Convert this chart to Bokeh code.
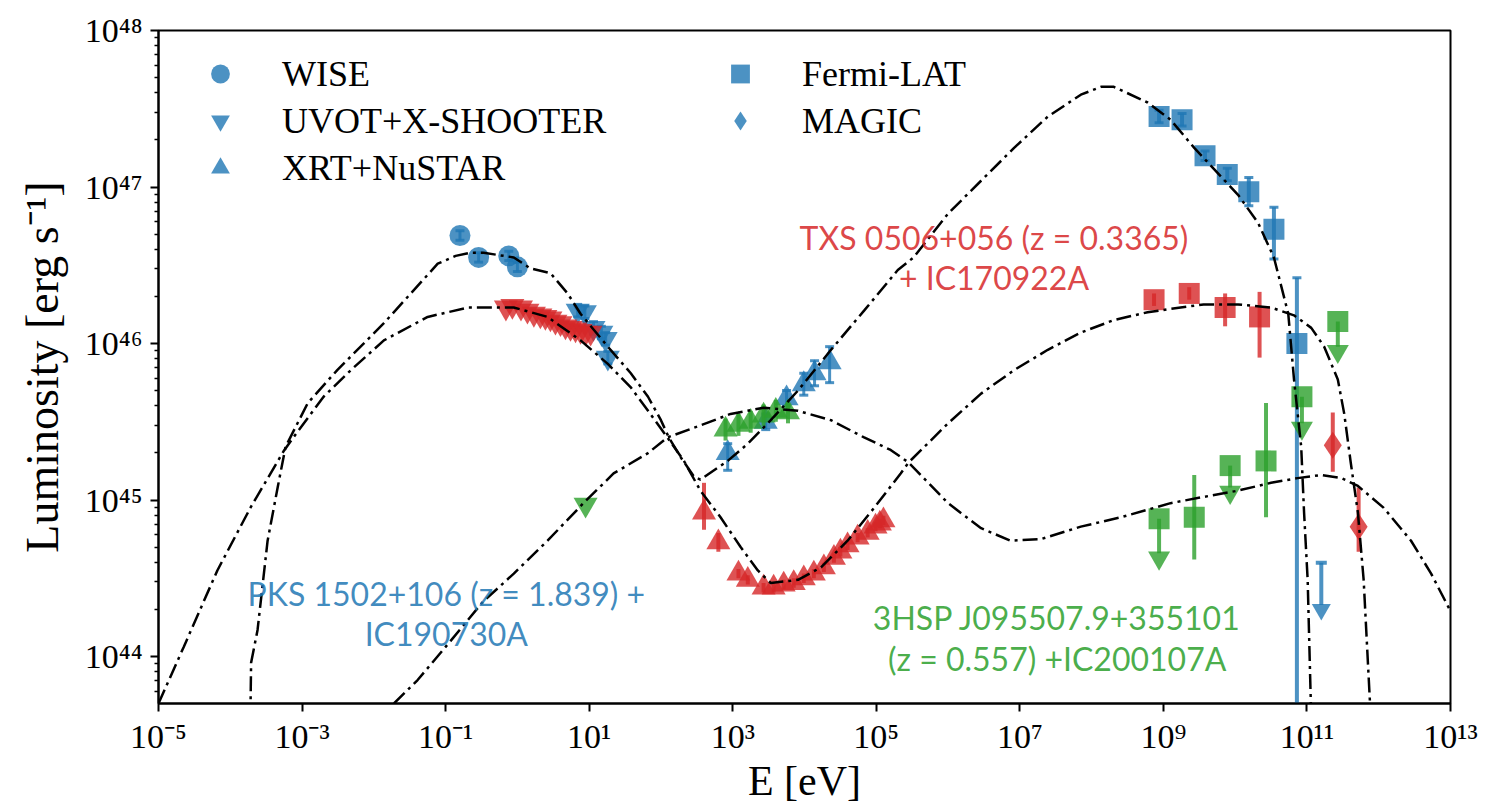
import numpy as np
from bokeh.plotting import figure
from bokeh.models import (FixedTicker, Label, Legend, LegendItem, Range1d, CustomJSTickFormatter)
from bokeh.embed import file_html
from bokeh.resources import INLINE

BLUE = "#1f77b4"
RED = "#d62728"
GREEN = "#2ca02c"

# ---------------- model curves: log10(E/eV), log10(L/erg s^-1) ----------------
pks_model_logE = [-3.72, -3.71, -3.62, -3.48, -3.34, -3.23, -2.92, -2.51, -1.86, -1.11, -0.86, -0.65,
                  -0.47, -0.05, 0.18, 0.46, 0.70, 0.88, 1.26, 1.58, 1.82, 2.00, 2.11, 2.28, 2.46, 2.55,
                  2.93, 3.21, 3.53, 3.91, 4.37, 4.83, 5.30, 5.52, 6.00, 6.46, 6.92, 7.39, 7.85, 8.13,
                  8.31, 8.78, 9.10, 9.43, 10.04, 10.32, 10.54, 10.74, 10.82, 10.92, 10.96, 11.01, 11.06]
pks_model_logL = [43.60, 43.96, 44.17, 44.74, 45.08, 45.34, 45.62, 45.83, 46.13, 46.51, 46.56, 46.58,
                  46.58, 46.55, 46.48, 46.45, 46.32, 46.19, 45.98, 45.81, 45.66, 45.51, 45.40, 45.27,
                  45.15, 45.13, 45.25, 45.36, 45.51, 45.70, 45.96, 46.21, 46.47, 46.55, 46.83, 47.04,
                  47.25, 47.45, 47.59, 47.64, 47.64, 47.54, 47.43, 47.25, 46.95, 46.77, 46.55, 46.19,
                  45.77, 45.34, 44.92, 44.49, 43.60]

txs_model_logE = [-5.00, -4.65, -4.18, -3.72, -3.26, -3.12, -2.70, -2.32, -1.86, -1.25, -0.69, -0.28,
                  -0.05, 0.42, 0.88, 1.26, 1.58, 1.82, 2.09, 2.32, 2.55, 2.83, 3.11, 3.35, 3.53, 3.91,
                  4.23, 4.60, 4.97, 5.34, 5.45, 6.00, 6.46, 6.92, 7.39, 7.85, 8.31, 8.78, 9.24, 9.56,
                  10.04, 10.50, 10.82, 11.06, 11.24, 11.43, 11.52, 11.61, 11.71, 11.79, 11.89]
txs_model_logL = [43.70, 44.06, 44.55, 44.95, 45.31, 45.40, 45.66, 45.83, 46.02, 46.17, 46.23, 46.23,
                  46.23, 46.17, 46.02, 45.87, 45.72, 45.57, 45.40, 45.25, 45.06, 44.89, 44.70, 44.55,
                  44.47, 44.49, 44.57, 44.74, 44.95, 45.17, 45.24, 45.49, 45.68, 45.83, 45.96, 46.07,
                  46.15, 46.20, 46.23, 46.25, 46.25, 46.23, 46.18, 46.10, 45.98, 45.77, 45.55, 45.24,
                  44.92, 44.49, 43.60]

hsp_model_logE = [-1.72, -1.39, -0.93, -0.48, -0.05, 0.42, 0.92, 1.34, 1.82, 2.09, 2.51, 2.97, 3.43,
                  3.91, 4.37, 4.83, 5.20, 5.45, 6.00, 6.46, 6.87, 7.29, 7.85, 8.41, 9.10, 9.56, 10.04,
                  10.50, 10.87, 11.20, 11.48, 11.71, 12.07, 12.45, 12.73, 13.00]
hsp_model_logL = [43.70, 43.85, 44.10, 44.35, 44.53, 44.74, 44.98, 45.17, 45.30, 45.40, 45.47, 45.55,
                  45.59, 45.57, 45.51, 45.40, 45.32, 45.24, 44.98, 44.82, 44.74, 44.75, 44.83, 44.89,
                  44.98, 45.02, 45.06, 45.11, 45.14, 45.16, 45.14, 45.09, 44.95, 44.74, 44.53, 44.29]

# ---------------- PKS 1502+106 data (blue) ----------------
pks_wise_logE = [-0.80, -0.54, -0.12, 0.00]
pks_wise_logL = [46.69, 46.55, 46.56, 46.49]
pks_wise_err = [0.03, 0.03, 0.03, 0.03]

pks_uvot_logE = [0.84, 0.94, 1.06, 1.17, 1.23, 1.26]
pks_uvot_logL = [46.21, 46.20, 46.10, 46.07, 46.03, 45.91]
pks_uvot_err = [0.04, 0.04, 0.04, 0.04, 0.04, 0.04]

pks_xrt_logE = [2.93, 3.46, 3.75, 3.99, 4.14, 4.35]
pks_xrt_logL = [45.30, 45.50, 45.65, 45.74, 45.81, 45.88]
pks_xrt_lo = [45.19, 45.45, 45.60, 45.67, 45.73, 45.75]
pks_xrt_hi = [45.36, 45.55, 45.70, 45.81, 45.89, 45.98]

pks_lat_logE = [8.94, 9.26, 9.58, 9.89, 10.19, 10.54, 10.86]
pks_lat_logL = [47.45, 47.43, 47.20, 47.08, 46.97, 46.73, 46.00]
pks_lat_lo = [47.41, 47.39, 47.17, 47.04, 46.88, 46.54, 40.00]
pks_lat_hi = [47.49, 47.47, 47.23, 47.12, 47.06, 46.87, 46.42]

pks_ul_logE = [11.20]
pks_ul_logL = [44.60]
pks_ul_len = [0.27]

# ---------------- TXS 0506+056 data (red) ----------------
txs_uvot_logE = [-0.16, -0.07, 0.05, 0.14, 0.23, 0.32, 0.39, 0.46, 0.53, 0.60, 0.67, 0.74, 0.81,
                 0.88, 0.95, 1.02]
txs_uvot_logL = [46.23, 46.24, 46.23, 46.21, 46.19, 46.18, 46.17, 46.16, 46.14, 46.13, 46.11,
                 46.10, 46.09, 46.08, 46.07, 46.07]

txs_xrt_logE = [2.60, 2.80, 3.08, 3.21, 3.43, 3.57, 3.71, 3.85, 3.99, 4.13, 4.27, 4.41, 4.50, 4.60,
                4.74, 4.88, 4.99, 5.05, 5.10]
txs_xrt_logL = [44.92, 44.73, 44.53, 44.49, 44.44, 44.44, 44.46, 44.47, 44.50, 44.53, 44.57, 44.63,
                44.67, 44.71, 44.76, 44.79, 44.83, 44.85, 44.87]
txs_xrt_lo = [44.81, 44.67, 44.50, 44.46, 44.41, 44.41, 44.43, 44.44, 44.47, 44.50, 44.54, 44.60,
              44.64, 44.68, 44.73, 44.76, 44.80, 44.82, 44.84]
txs_xrt_hi = [45.11, 44.79, 44.56, 44.52, 44.47, 44.47, 44.49, 44.50, 44.53, 44.56, 44.60, 44.66,
              44.70, 44.74, 44.79, 44.82, 44.86, 44.88, 44.90]

txs_lat_logE = [8.87, 9.36, 9.86, 10.34]
txs_lat_logL = [46.28, 46.32, 46.23, 46.17]
txs_lat_lo = [46.24, 46.28, 46.11, 45.91]
txs_lat_hi = [46.32, 46.36, 46.32, 46.33]

txs_magic_logE = [11.36, 11.72]
txs_magic_logL = [45.35, 44.83]
txs_magic_lo = [45.18, 44.67]
txs_magic_hi = [45.56, 45.08]

# ---------------- 3HSP J095507.9+355101 data (green) ----------------
hsp_uvot_logE = [0.95]
hsp_uvot_logL = [44.97]

hsp_xrt_logE = [2.90, 3.08, 3.25, 3.43, 3.60, 3.77]
hsp_xrt_logL = [45.45, 45.48, 45.50, 45.54, 45.57, 45.56]
hsp_xrt_err = [0.07, 0.07, 0.07, 0.07, 0.07, 0.07]

hsp_lat_logE = [9.43, 10.43]
hsp_lat_logL = [44.89, 45.25]
hsp_lat_lo = [44.62, 44.89]
hsp_lat_hi = [45.16, 45.62]

hsp_ul_logE = [8.94, 9.93, 10.93, 11.43]
hsp_ul_logL = [44.88, 45.22, 45.66, 46.14]
hsp_ul_len = [0.22, 0.14, 0.17, 0.16]

legend_labels = ["WISE", "UVOT+X-SHOOTER", "XRT+NuSTAR", "Fermi-LAT", "MAGIC"]
x_tick_exps = [-5, -3, -1, 1, 3, 5, 7, 9, 11, 13]
y_tick_exps = [44, 45, 46, 47, 48]

# ---------------- figure ----------------
p = figure(width=1480, height=811, x_axis_type="log", y_axis_type="log",
           x_range=Range1d(1e-5, 1e13), y_range=Range1d(10 ** 43.70, 1e48),
           output_backend="svg", toolbar_location=None,
           min_border_left=158, min_border_right=30, min_border_top=30, min_border_bottom=108)
p.background_fill_color = "white"
p.border_fill_color = "white"
p.outline_line_color = "black"
p.outline_line_width = 2
p.xgrid.visible = False
p.ygrid.visible = False

fmt = CustomJSTickFormatter(code="""
const sup = {'0':'\u2070','1':'\u00b9','2':'\u00b2','3':'\u00b3','4':'\u2074','5':'\u2075',
             '6':'\u2076','7':'\u2077','8':'\u2078','9':'\u2079','-':'\u207b'};
const e = Math.round(Math.log10(tick));
return '10' + String(e).split('').map(c => sup[c]).join('');
""")

minor_y = [k * 10.0 ** n for n in range(43, 48) for k in range(2, 10) if 10 ** 43.70 < k * 10.0 ** n < 1e48]
p.xaxis.ticker = FixedTicker(ticks=[10.0 ** e for e in x_tick_exps], minor_ticks=[])
p.yaxis.ticker = FixedTicker(ticks=[10.0 ** e for e in y_tick_exps], minor_ticks=minor_y)
for ax in (p.xaxis[0], p.yaxis[0]):
    ax.formatter = fmt
    ax.axis_line_width = 2
    ax.axis_line_color = "black"
    ax.major_tick_line_width = 2
    ax.minor_tick_line_width = 1.5
    ax.major_tick_in = 0
    ax.major_tick_out = 8
    ax.minor_tick_in = 0
    ax.minor_tick_out = 4
    ax.major_label_text_font = "Liberation Serif"
    ax.major_label_text_font_size = "34px"
    ax.major_label_text_color = "black"
    ax.major_label_standoff = 8
    ax.axis_label_text_font = "Liberation Serif"
    ax.axis_label_text_font_style = "normal"
    ax.axis_label_text_color = "black"

p.yaxis.axis_label = "Luminosity [erg s\u207b\u00b9]"
p.yaxis.axis_label_text_font_size = "46px"
p.yaxis.axis_label_standoff = 14

p.xaxis.axis_label = "E [eV]"
p.xaxis.axis_label_text_font_size = "42px"
p.xaxis.axis_label_standoff = 0
p.xaxis.major_label_standoff = 6


def L(a):
    return 10.0 ** np.asarray(a, dtype=float)


def errbars(xe, lo, hi, color, caps=False, width=4):
    x = L(xe)
    p.segment(x0=x, y0=L(lo), x1=x, y1=L(hi), line_color=color, line_alpha=0.8, line_width=width)
    if caps:
        p.scatter(x=np.concatenate([x, x]), y=L(list(lo) + list(hi)), marker="dash", size=9,
                  line_color=color, line_alpha=0.8, line_width=3)


def uplims(xe, yl, length, color, head=22, caps=False):
    x = L(xe)
    y0 = np.asarray(yl, dtype=float)
    y1 = y0 - np.asarray(length, dtype=float)
    p.segment(x0=x, y0=L(y0), x1=x, y1=L(y1), line_color=color, line_alpha=0.8, line_width=4)
    p.scatter(x=x, y=L(y1 - 0.03), marker="inverted_triangle", size=head,
              fill_color=color, fill_alpha=0.8, line_alpha=0)
    if caps:
        p.scatter(x=x, y=L(y0), marker="dash", size=11, line_color=color, line_alpha=0.8, line_width=4)


def pts(xe, ye, marker, color, size):
    return p.scatter(x=L(xe), y=L(ye), marker=marker, size=size, fill_color=color, fill_alpha=0.8,
                     line_alpha=0)


# PKS (blue)
errbars(pks_wise_logE, np.subtract(pks_wise_logL, pks_wise_err), np.add(pks_wise_logL, pks_wise_err), BLUE, caps=True, width=3)
r_wise = pts(pks_wise_logE, pks_wise_logL, "circle", BLUE, 21)
errbars(pks_uvot_logE, np.subtract(pks_uvot_logL, pks_uvot_err), np.add(pks_uvot_logL, pks_uvot_err), BLUE, caps=True, width=3)
r_uvot = pts(pks_uvot_logE, pks_uvot_logL, "inverted_triangle", BLUE, 24)
errbars(pks_xrt_logE, pks_xrt_lo, pks_xrt_hi, BLUE, caps=True, width=3)
r_xrt = pts(pks_xrt_logE, pks_xrt_logL, "triangle", BLUE, 24)
errbars(pks_lat_logE, pks_lat_lo, pks_lat_hi, BLUE, caps=True, width=4)
r_lat = pts(pks_lat_logE, pks_lat_logL, "square", BLUE, 21)
uplims(pks_ul_logE, pks_ul_logL, pks_ul_len, BLUE, head=19, caps=True)
# legend-only glyph for MAGIC (no visible point)
r_magic_legend = p.scatter(x=[np.nan], y=[np.nan], marker="diamond", size=26, fill_color=BLUE,
                           fill_alpha=0.8, line_alpha=0)

# TXS (red)
pts(txs_uvot_logE, txs_uvot_logL, "inverted_triangle", RED, 24)
errbars(txs_xrt_logE, txs_xrt_lo, txs_xrt_hi, RED)
pts(txs_xrt_logE, txs_xrt_logL, "triangle", RED, 24)
errbars(txs_lat_logE, txs_lat_lo, txs_lat_hi, RED)
pts(txs_lat_logE, txs_lat_logL, "square", RED, 21)
errbars(txs_magic_logE, txs_magic_lo, txs_magic_hi, RED)
pts(txs_magic_logE, txs_magic_logL, "diamond", RED, 27)

# 3HSP (green)
pts(hsp_uvot_logE, hsp_uvot_logL, "inverted_triangle", GREEN, 24)
errbars(hsp_xrt_logE, np.subtract(hsp_xrt_logL, hsp_xrt_err), np.add(hsp_xrt_logL, hsp_xrt_err), GREEN)
pts(hsp_xrt_logE, hsp_xrt_logL, "triangle", GREEN, 24)
errbars(hsp_lat_logE, hsp_lat_lo, hsp_lat_hi, GREEN)
pts(hsp_lat_logE, hsp_lat_logL, "square", GREEN, 21)
uplims(hsp_ul_logE, hsp_ul_logL, hsp_ul_len, GREEN)
pts(hsp_ul_logE, hsp_ul_logL, "square", GREEN, 21)

# model curves on top
for xe, ye in ((pks_model_logE, pks_model_logL), (txs_model_logE, txs_model_logL),
               (hsp_model_logE, hsp_model_logL)):
    p.line(L(xe), L(ye), line_color="black", line_width=2.5, line_dash="15 5 3 5")

# legends (two columns)
leg_kw = dict(label_text_font="Liberation Serif", label_text_font_size="36px",
              label_text_color="black",
              glyph_width=50, glyph_height=47, label_height=47, label_standoff=37,
              spacing=0, padding=0, margin=0, border_line_alpha=0, background_fill_alpha=0)
leg1 = Legend(items=[LegendItem(label=legend_labels[0], renderers=[r_wise]),
                     LegendItem(label=legend_labels[1], renderers=[r_uvot]),
                     LegendItem(label=legend_labels[2], renderers=[r_xrt])],
              location=(37, 512), **leg_kw)
leg2 = Legend(items=[LegendItem(label=legend_labels[3], renderers=[r_lat]),
                     LegendItem(label=legend_labels[4], renderers=[r_magic_legend])],
              location=(557, 559), **leg_kw)
p.add_layout(leg1)
p.add_layout(leg2)

# source annotations
ann_font = "Lato"
for txt, xe, ye, col in (("TXS 0506+056 (z = 0.3365)", 6.64, 46.68, RED),
                         ("+ IC170922A", 6.64, 46.42, RED),
                         ("PKS 1502+106 (z = 1.839) +", -0.99, 44.40, BLUE),
                         ("IC190730A", -0.99, 44.15, BLUE),
                         ("3HSP J095507.9+355101", 7.52, 44.25, GREEN),
                         ("(z = 0.557) +IC200107A", 7.52, 43.99, GREEN)):
    p.add_layout(Label(x=10 ** xe, y=10 ** ye, text=txt, text_font=ann_font, text_font_size="32px",
                       text_color=col, text_alpha=0.85, text_align="center",
                       text_baseline="alphabetic"))

open("out.html", "w").write(file_html(p, INLINE))
